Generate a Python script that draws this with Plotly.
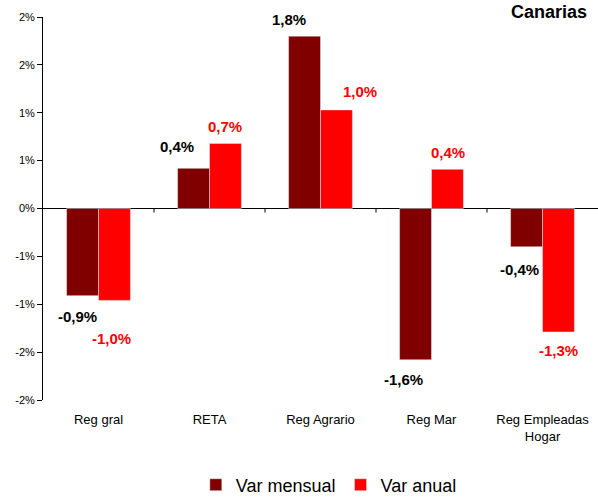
import plotly.graph_objects as go

categories = ["Reg gral", "RETA", "Reg Agrario", "Reg Mar", "Reg Empleadas<br>Hogar"]
var_mensual = [-0.91, 0.42, 1.80, -1.58, -0.40]
var_anual = [-0.96, 0.68, 1.03, 0.41, -1.29]
y_tickvals = [-2, -1.5, -1, -0.5, 0, 0.5, 1, 1.5, 2]
y_ticktext = ["-2%", "-2%", "-1%", "-1%", "0%", "1%", "1%", "2%", "2%"]
title_text = "Canarias"

# styling: label offsets in pixels (dx, dy) relative to bar end
mensual_offsets = [(-5, -21), (-17, 22), (-16, 17), (-12, -20), (-7, -23)]
anual_offsets = [(-3, -38), (-1, 17), (23, 18), (0, 17), (0, -18)]

C_M = "#800000"
C_A = "#FF0000"
FONT = "Liberation Sans, Arial, sans-serif"

fig = go.Figure()
fig.add_trace(go.Bar(name="Var mensual", x=categories, y=var_mensual, marker_color=C_M))
fig.add_trace(go.Bar(name="Var anual", x=categories, y=var_anual, marker_color=C_A))

def fmt(v):
    s = f"{v:.1f}".replace(".", ",")
    return s + "%"

annotations = []
for i, c in enumerate(categories):
    for vals, offs, col, side in ((var_mensual, mensual_offsets, "black", -16),
                                  (var_anual, anual_offsets, C_A, 16)):
        v = vals[i]
        dx, dy = offs[i]
        annotations.append(dict(x=c, y=v, xref="x", yref="y", text=fmt(v), showarrow=False,
                                xanchor="center", yanchor="middle", xshift=side + dx, yshift=dy,
                                font=dict(family=FONT, size=15, color=col, weight="bold")))
annotations.append(dict(x=0.984, y=1.0, xref="paper", yref="paper", text=title_text,
                        showarrow=False, xanchor="right", yanchor="top", yshift=17,
                        font=dict(family=FONT, size=18, color="black", weight="bold")))

# small tick marks below the zero line at category boundaries
shapes = []
for i in range(len(categories) - 1):
    shapes.append(dict(type="line", xref="x", yref="y", x0=i + 0.5, x1=i + 0.5,
                       ysizemode="pixel", yanchor=0, y0=0, y1=-4,
                       line=dict(color="black", width=1)))

fig.update_layout(
    width=598, height=499,
    margin=dict(l=43, r=0, t=17, b=99, autoexpand=False),
    paper_bgcolor="white", plot_bgcolor="white",
    barmode="group", bargap=0.425, bargroupgap=0,
    font=dict(family=FONT, color="black"),
    showlegend=True,
    legend=dict(orientation="h", x=0.515, y=-0.222, xanchor="center", yanchor="middle",
                font=dict(family=FONT, size=18, color="black"), itemwidth=30),
    annotations=annotations,
    shapes=shapes,
    xaxis=dict(showline=False, ticks="", showgrid=False, zeroline=False,
               tickfont=dict(family=FONT, size=13, color="black"), ticklabelstandoff=10),
    yaxis=dict(range=[-2, 2], tickvals=y_tickvals, ticktext=y_ticktext, showgrid=False,
               zeroline=True, zerolinecolor="black", zerolinewidth=1,
               showline=True, linecolor="black", linewidth=1,
               ticks="outside", ticklen=5, tickcolor="black",
               tickfont=dict(family=FONT, size=11, color="black")),
)

fig.write_html("out.html", config={"displayModeBar": False},
               post_script="document.body.style.margin='0px';")
